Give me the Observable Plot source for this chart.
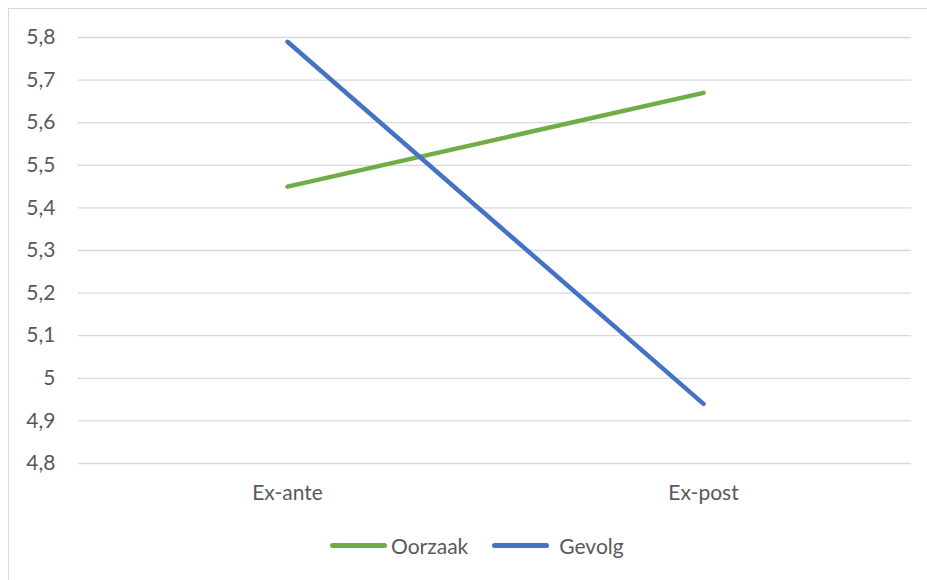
<!DOCTYPE html>
<html>
<head>
<meta charset="utf-8">
<script src="https://cdn.jsdelivr.net/npm/d3@7"></script>
<script src="https://cdn.jsdelivr.net/npm/@observablehq/plot@0.6"></script>
<style>
  html, body { margin: 0; padding: 0; background: #fff; }
  #wrap { position: relative; width: 927px; height: 580px; overflow: hidden; font-family: Lato, sans-serif; }
  #frame { position: absolute; left: 8px; top: 8px; width: 940px; height: 600px; border: 1px solid #d9d9d9; box-sizing: border-box; }
  #chart { position: absolute; left: 0; top: 0; }
  #legend { position: absolute; left: 330px; top: 533px; display: flex; align-items: center; color: #595959; font-size: 21px; }
  .item { display: flex; align-items: center; }
  .sw { display: inline-block; width: 57px; height: 5px; border-radius: 3px; margin-right: 4px; }
</style>
</head>
<body>
<div id="wrap">
  <div id="frame"></div>
  <div id="chart"></div>
  <div id="legend"></div>
</div>
<script>
const categories = ["Ex-ante", "Ex-post"];
const seriesNames = ["Oorzaak", "Gevolg"];
const oorzaak = [5.45, 5.67];
const gevolg = [5.79, 4.94];
const yTicks = [4.8, 4.9, 5.0, 5.1, 5.2, 5.3, 5.4, 5.5, 5.6, 5.7, 5.8];
const colors = ["#70ad47", "#4472c4"];

const rows = [];
categories.forEach((c, i) => {
  rows.push({cat: c, series: seriesNames[0], value: oorzaak[i]});
});
categories.forEach((c, i) => {
  rows.push({cat: c, series: seriesNames[1], value: gevolg[i]});
});

const fmt = d => d3.format(".1~f")(d).replace(".", ",");

const chart = Plot.plot({
  width: 927,
  height: 515,
  marginLeft: 78,
  marginRight: 16,
  marginTop: 37,
  marginBottom: 52,
  style: {fontFamily: "Lato, sans-serif", fontSize: "21px", color: "#595959", background: "transparent"},
  x: {type: "point", domain: categories, padding: 0.5, label: null},
  y: {domain: [4.8, 5.8], label: null},
  color: {domain: seriesNames, range: colors},
  marks: [
    Plot.gridY(yTicks, {stroke: "#d9d9d9", strokeOpacity: 1, strokeWidth: 1.3}),
    Plot.axisY(yTicks, {tickSize: 0, tickPadding: 23, tickFormat: fmt, fontSize: 21, fill: "#595959", label: null}),
    Plot.axisX({tickSize: 0, tickPadding: 22, fontSize: 21, fill: "#595959", label: null}),
    Plot.line(rows, {x: "cat", y: "value", z: "series", stroke: "series", strokeWidth: 4.5, strokeLinecap: "round", strokeLinejoin: "round"})
  ]
});
document.getElementById("chart").appendChild(chart);

const legend = document.getElementById("legend");
seriesNames.forEach((s, i) => {
  const it = document.createElement("div");
  it.className = "item";
  if (i === 1) it.style.marginLeft = "24px";
  const sw = document.createElement("span");
  sw.className = "sw";
  sw.style.background = colors[i];
  if (i === 1) sw.style.marginRight = "10px";
  it.appendChild(sw);
  const t = document.createElement("span");
  t.textContent = s;
  it.appendChild(t);
  legend.appendChild(it);
});
</script>
</body>
</html>
